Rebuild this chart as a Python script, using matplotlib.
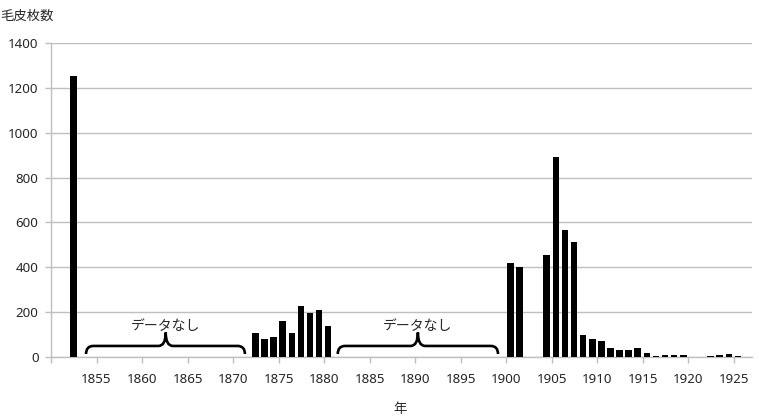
import matplotlib
matplotlib.use("Agg")
import matplotlib.pyplot as plt
from matplotlib.path import Path
from matplotlib.patches import PathPatch

plt.rcParams['font.family'] = ['Noto Sans', 'Noto Sans CJK JP', 'DejaVu Sans']

# ---- data ----
years = [1852,
         1872, 1873, 1874, 1875, 1876, 1877, 1878, 1879, 1880,
         1900, 1901,
         1904, 1905, 1906, 1907, 1908, 1909, 1910, 1911, 1912, 1913, 1914,
         1915, 1916, 1917, 1918, 1919, 1920, 1921, 1922, 1923, 1924, 1925]
pelts = [1255,
         104, 78, 87, 161, 104, 226, 197, 207, 137,
         420, 402,
         453, 890, 566, 514, 96, 78, 69, 40, 30, 30, 40,
         17, 4, 7, 7, 7, 0, 0, 3, 7, 12, 3]
tick_years = list(range(1850, 1926, 5))
tick_labels = [''] + [str(y) for y in tick_years[1:]]
yticks = list(range(0, 1401, 200))
gaps = [(1853.85, 1871.3, 1862.6), (1881.5, 1899.1, 1890.3)]
gap_label = 'データなし'
ylabel = '毛皮枚数'
xlabel = '年'

W, H = 759, 420
fig = plt.figure(figsize=(W / 100, H / 100), dpi=100)
ax = fig.add_axes([51 / W, 1 - 356.7 / H, (752 - 51) / W, (356.7 - 43.3) / H])

txt = '#262626'
grid_c = '#BFBFBF'

ax.bar([y + 0.45 for y in years], pelts, width=0.72, color='black', zorder=3)

ax.set_xlim(1850, 1927)
ax.set_ylim(0, 1400)
ax.set_xticks(tick_years)
ax.set_xticklabels(tick_labels)
ax.set_yticks(yticks)
ax.yaxis.grid(True, color=grid_c, linewidth=1.0, zorder=0)
ax.set_axisbelow(True)
for s in ['top', 'right']:
    ax.spines[s].set_visible(False)
for s in ['left', 'bottom']:
    ax.spines[s].set_color(grid_c)
    ax.spines[s].set_linewidth(1.0)
ax.tick_params(axis='x', length=4, color=grid_c, width=1, labelsize=9.6,
               labelcolor=txt, pad=8)
ax.tick_params(axis='y', length=4, color=grid_c, width=1, labelsize=9.6,
               labelcolor=txt, pad=5)

# braces marking missing data
yb, ym, yt = 12, 48, 108
rx = 0.8
for x0, x1, xc in gaps:
    verts = [(x0, yb), (x0, ym), (x0 + rx, ym),
             (xc - rx, ym),
             (xc, ym), (xc, yt),
             (xc, ym), (xc + rx, ym),
             (x1 - rx, ym),
             (x1, ym), (x1, yb)]
    codes = [Path.MOVETO, Path.CURVE3, Path.CURVE3,
             Path.LINETO,
             Path.CURVE3, Path.CURVE3,
             Path.CURVE3, Path.CURVE3,
             Path.LINETO,
             Path.CURVE3, Path.CURVE3]
    ax.add_patch(PathPatch(Path(verts, codes), facecolor='none',
                           edgecolor='black', linewidth=1.9, zorder=4,
                           capstyle='butt'))
    ax.text(xc, 133, gap_label, ha='center', va='center', fontsize=10,
            color=txt, zorder=5)

fig.text(0 / W, 1 - 16.5 / H, ylabel, ha='left', va='center', fontsize=9.6,
         color=txt)
fig.text(400 / W, 1 - 410 / H, xlabel, ha='center', va='center', fontsize=9.6,
         color=txt)

fig.savefig('out.png', dpi=100)
